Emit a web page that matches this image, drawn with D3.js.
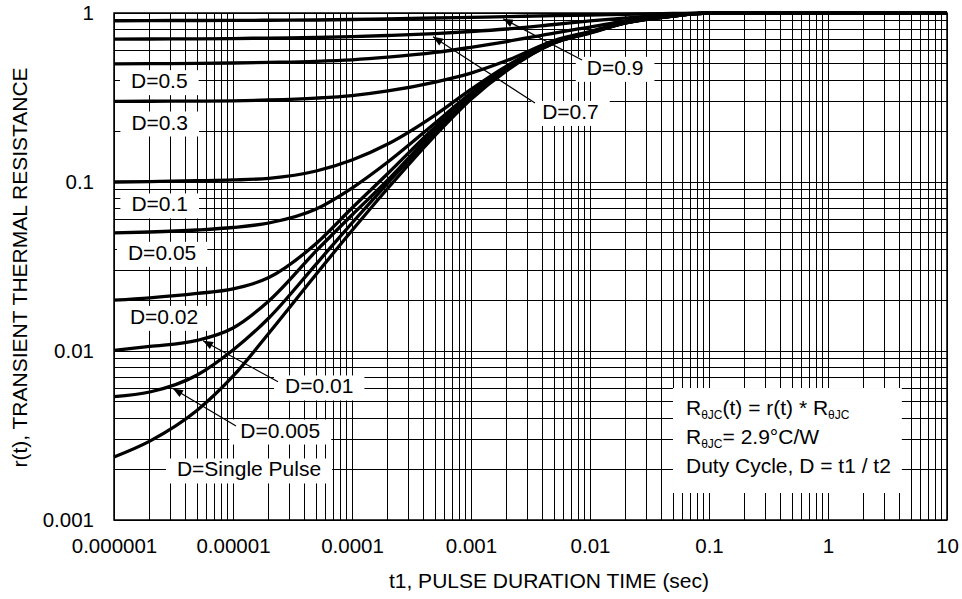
<!DOCTYPE html>
<html>
<head>
<meta charset="utf-8">
<script src="https://cdn.jsdelivr.net/npm/d3@7"></script>
<style>
body { margin: 0; background: #fff; }
text { font-family: Arial, "Liberation Sans", sans-serif; fill: #000; }
</style>
</head>
<body>
<div id="chart"></div>
<script>
// pulse duration t1 (sec), same for every curve
var pulseTimes = [0.000001, 0.000002, 0.000005, 0.00001, 0.00002, 0.00005, 0.0001, 0.0002, 0.0005,
    0.001, 0.002, 0.005, 0.01, 0.02, 0.05, 0.1, 1, 10];

// r(t), one array per duty cycle
var rD09 = [0.900, 0.902, 0.903, 0.904, 0.906, 0.909, 0.915, 0.924, 0.934, 0.943, 0.952, 0.965, 0.973, 0.982, 0.993, 1.000, 1, 1];
var rD07 = [0.700, 0.7015, 0.703, 0.706, 0.711, 0.716, 0.724, 0.736, 0.756, 0.777, 0.804, 0.855, 0.897, 0.934, 0.980, 0.999, 1, 1];
var rD05 = [0.500, 0.5014, 0.5035, 0.506, 0.5103, 0.5177, 0.5284, 0.5474, 0.584, 0.627, 0.678, 0.761, 0.826, 0.897, 0.970, 0.999, 1, 1];
var rD03 = [0.300, 0.3004, 0.3012, 0.3023, 0.3056, 0.3135, 0.3245, 0.3457, 0.3905, 0.441, 0.523, 0.687, 0.777, 0.881, 0.962, 0.997, 1, 1];
var rD01 = [0.100, 0.1006, 0.1017, 0.1028, 0.1052, 0.1162, 0.1349, 0.1678, 0.249, 0.353, 0.486, 0.678, 0.772, 0.879, 0.960, 0.997, 1, 1];
var rD005 = [0.050, 0.0506, 0.0520, 0.0538, 0.0572, 0.0692, 0.0921, 0.1313, 0.2235, 0.336, 0.474, 0.674, 0.769, 0.876, 0.960, 0.997, 1, 1];
var rD002 = [0.0200, 0.02064, 0.0219, 0.0233, 0.0272, 0.0433, 0.0702, 0.1123, 0.2115, 0.327, 0.468, 0.669, 0.767, 0.875, 0.960, 0.997, 1, 1];
var rD001 = [0.0101, 0.01064, 0.01155, 0.01368, 0.01977, 0.0391, 0.0638, 0.1028, 0.203, 0.321, 0.464, 0.666, 0.766, 0.876, 0.961, 0.997, 1, 1];
var rD0005 = [0.00537, 0.00572, 0.00721, 0.01014, 0.01568, 0.0327, 0.0572, 0.0986, 0.1977, 0.316, 0.462, 0.665, 0.765, 0.875, 0.961, 0.997, 1, 1];
var rSingle = [0.00236, 0.00293, 0.00446, 0.00709, 0.01274, 0.02846, 0.0516, 0.0918, 0.189, 0.309, 0.456, 0.664, 0.760, 0.873, 0.960, 0.997, 1, 1];

var seriesList = [rD09, rD07, rD05, rD03, rD01, rD005, rD002, rD001, rD0005, rSingle];

var xTicks = [0.000001, 0.00001, 0.0001, 0.001, 0.01, 0.1, 1, 10];
var xTickLabels = ["0.000001", "0.00001", "0.0001", "0.001", "0.01", "0.1", "1", "10"];
var yTicks = [0.001, 0.01, 0.1, 1];
var yTickLabels = ["0.001", "0.01", "0.1", "1"];

// curve labels, placed in data units (t, r) = left end / middle of the text
var curveLabels = [
    {text: "D=0.9", t: 0.0094, r: 0.476},
    {text: "D=0.7", t: 0.00396, r: 0.261},
    {text: "D=0.5", t: 0.00000139, r: 0.397},
    {text: "D=0.3", t: 0.0000014, r: 0.226},
    {text: "D=0.1", t: 0.0000014, r: 0.074},
    {text: "D=0.05", t: 0.00000131, r: 0.0383},
    {text: "D=0.02", t: 0.00000136, r: 0.016},
    {text: "D=0.01", t: 0.0000274, r: 0.0062},
    {text: "D=0.005", t: 0.0000115, r: 0.0034},
    {text: "D=Single Pulse", t: 0.00000338, r: 0.0020}
];

// leader arrows: from label (t0,r0) to curve (t1,r1)
var arrows = [
    {t0: 0.00857, r0: 0.527, t1: 0.00186, r1: 0.925},
    {t0: 0.00345, r0: 0.293, t1: 0.00048, r1: 0.724},
    {t0: 0.0000239, r0: 0.00658, t1: 0.0000056, r1: 0.0115},
    {t0: 0.0000106, r0: 0.0036, t1: 0.00000313, r1: 0.0060}
];

var width = 962, height = 599;
var padding = {top: 13, right: 15, bottom: 79, left: 114};

var svg = d3.select("#chart")
    .append("svg")
    .attr("width", width)
    .attr("height", height);

var xScale = d3.scaleLog()
    .domain([0.000001, 10])
    .range([padding.left, width - padding.right]);

var yScale = d3.scaleLog()
    .domain([0.001, 1])
    .range([height - padding.bottom, padding.top]);

// grid, 1..9 in every decade
var grid = svg.append("g").attr("class", "grid")
    .attr("stroke", "#000").attr("stroke-width", 1)
    .attr("shape-rendering", "crispEdges");

grid.selectAll(".vline")
    .data(xScale.ticks())
    .enter().append("line")
    .attr("class", "vline")
    .attr("x1", function(d) { return xScale(d); })
    .attr("x2", function(d) { return xScale(d); })
    .attr("y1", yScale(1))
    .attr("y2", yScale(0.001));

grid.selectAll(".hline")
    .data(yScale.ticks())
    .enter().append("line")
    .attr("class", "hline")
    .attr("y1", function(d) { return yScale(d); })
    .attr("y2", function(d) { return yScale(d); })
    .attr("x1", xScale(0.000001))
    .attr("x2", xScale(10));

svg.append("rect")
    .attr("x", xScale(0.000001))
    .attr("y", yScale(1))
    .attr("width", xScale(10) - xScale(0.000001))
    .attr("height", yScale(0.001) - yScale(1))
    .attr("fill", "none")
    .attr("stroke", "#000")
    .attr("stroke-width", 1.5);

// axes (labels only)
var xAxis = d3.axisBottom(xScale)
    .tickValues(xTicks)
    .tickFormat(function(d, i) { return xTickLabels[i]; })
    .tickSize(0)
    .tickPadding(18);

var gx = svg.append("g")
    .attr("class", "axis x-axis")
    .attr("transform", "translate(0," + yScale(0.001) + ")")
    .call(xAxis);
gx.select(".domain").remove();
gx.selectAll("text").attr("font-size", "20.5px").attr("font-family", null);

var yAxis = d3.axisLeft(yScale)
    .tickValues(yTicks)
    .tickFormat(function(d, i) { return yTickLabels[i]; })
    .tickSize(0)
    .tickPadding(20);

var gy = svg.append("g")
    .attr("class", "axis y-axis")
    .attr("transform", "translate(" + xScale(0.000001) + ",0)")
    .call(yAxis);
gy.select(".domain").remove();
gy.selectAll("text").attr("font-size", "20.5px").attr("font-family", null);

svg.append("text")
    .attr("x", 549)
    .attr("y", 588)
    .attr("text-anchor", "middle")
    .attr("font-size", "21px")
    .text("t1, PULSE DURATION TIME (sec)");

svg.append("text")
    .attr("transform", "translate(27," + ((yScale(1) + yScale(0.001)) / 2 + 1) + ") rotate(-90)")
    .attr("text-anchor", "middle")
    .attr("font-size", "21px")
    .text("r(t), TRANSIENT THERMAL RESISTANCE");

// curve labels with white boxes
var labelG = svg.append("g").attr("class", "labels");
curveLabels.forEach(function(l) {
    var g = labelG.append("g");
    var box = g.append("rect").attr("fill", "#fff");
    var txt = g.append("text")
        .attr("x", xScale(l.t))
        .attr("y", yScale(l.r))
        .attr("dy", "0.35em")
        .attr("font-size", "21px")
        .text(l.text);
    var bb = txt.node().getBBox();
    box.attr("x", bb.x - 11)
        .attr("y", bb.y + 1)
        .attr("width", bb.width + 22)
        .attr("height", bb.height + 2);
});

// note box
var noteX = xScale(0.0641);
var noteY = yScale(0.00418);
var noteG = svg.append("g").attr("class", "note");
var noteBox = noteG.append("rect").attr("fill", "#fff");
var noteText = noteG.append("text").attr("font-size", "21px");

var l1 = noteText.append("tspan").attr("x", noteX).attr("y", noteY);
l1.append("tspan").text("R");
l1.append("tspan").attr("font-size", "12px").attr("dy", 4).text("\u03B8JC");
l1.append("tspan").attr("dy", -4).text("(t) = r(t) * R");
l1.append("tspan").attr("font-size", "12px").attr("dy", 4).text("\u03B8JC");

var l2 = noteText.append("tspan").attr("x", noteX).attr("y", noteY + 29);
l2.append("tspan").text("R");
l2.append("tspan").attr("font-size", "12px").attr("dy", 4).text("\u03B8JC");
l2.append("tspan").attr("dy", -4).text("= 2.9\u00B0C/W");

noteText.append("tspan").attr("x", noteX).attr("y", noteY + 58)
    .text("Duty Cycle, D = t1 / t2");

var nb = noteText.node().getBBox();
noteBox.attr("x", nb.x - 13)
    .attr("y", nb.y - 8)
    .attr("width", nb.width + 24)
    .attr("height", nb.height + 24);

// curves
var line = d3.line()
    .curve(d3.curveMonotoneX)
    .x(function(d) { return xScale(d.t); })
    .y(function(d) { return yScale(d.r); });

svg.append("g").attr("class", "curves")
    .selectAll("path")
    .data(seriesList)
    .enter().append("path")
    .attr("d", function(s) {
        return line(s.map(function(r, i) { return {t: pulseTimes[i], r: r}; }));
    })
    .attr("fill", "none")
    .attr("stroke", "#000")
    .attr("stroke-width", 3.3)
    .attr("stroke-linejoin", "round");

// arrows
svg.append("defs").append("marker")
    .attr("id", "arrowhead")
    .attr("markerUnits", "userSpaceOnUse")
    .attr("viewBox", "0 0 10 8")
    .attr("refX", 10)
    .attr("refY", 4)
    .attr("markerWidth", 11)
    .attr("markerHeight", 8)
    .attr("orient", "auto")
    .append("path")
    .attr("d", "M0,0 L10,4 L0,8 Z")
    .attr("fill", "#000");

svg.append("g").attr("class", "arrows")
    .selectAll("line")
    .data(arrows)
    .enter().append("line")
    .attr("x1", function(d) { return xScale(d.t0); })
    .attr("y1", function(d) { return yScale(d.r0); })
    .attr("x2", function(d) { return xScale(d.t1); })
    .attr("y2", function(d) { return yScale(d.r1); })
    .attr("stroke", "#000")
    .attr("stroke-width", 1.2)
    .attr("marker-end", "url(#arrowhead)");
</script>
</body>
</html>
